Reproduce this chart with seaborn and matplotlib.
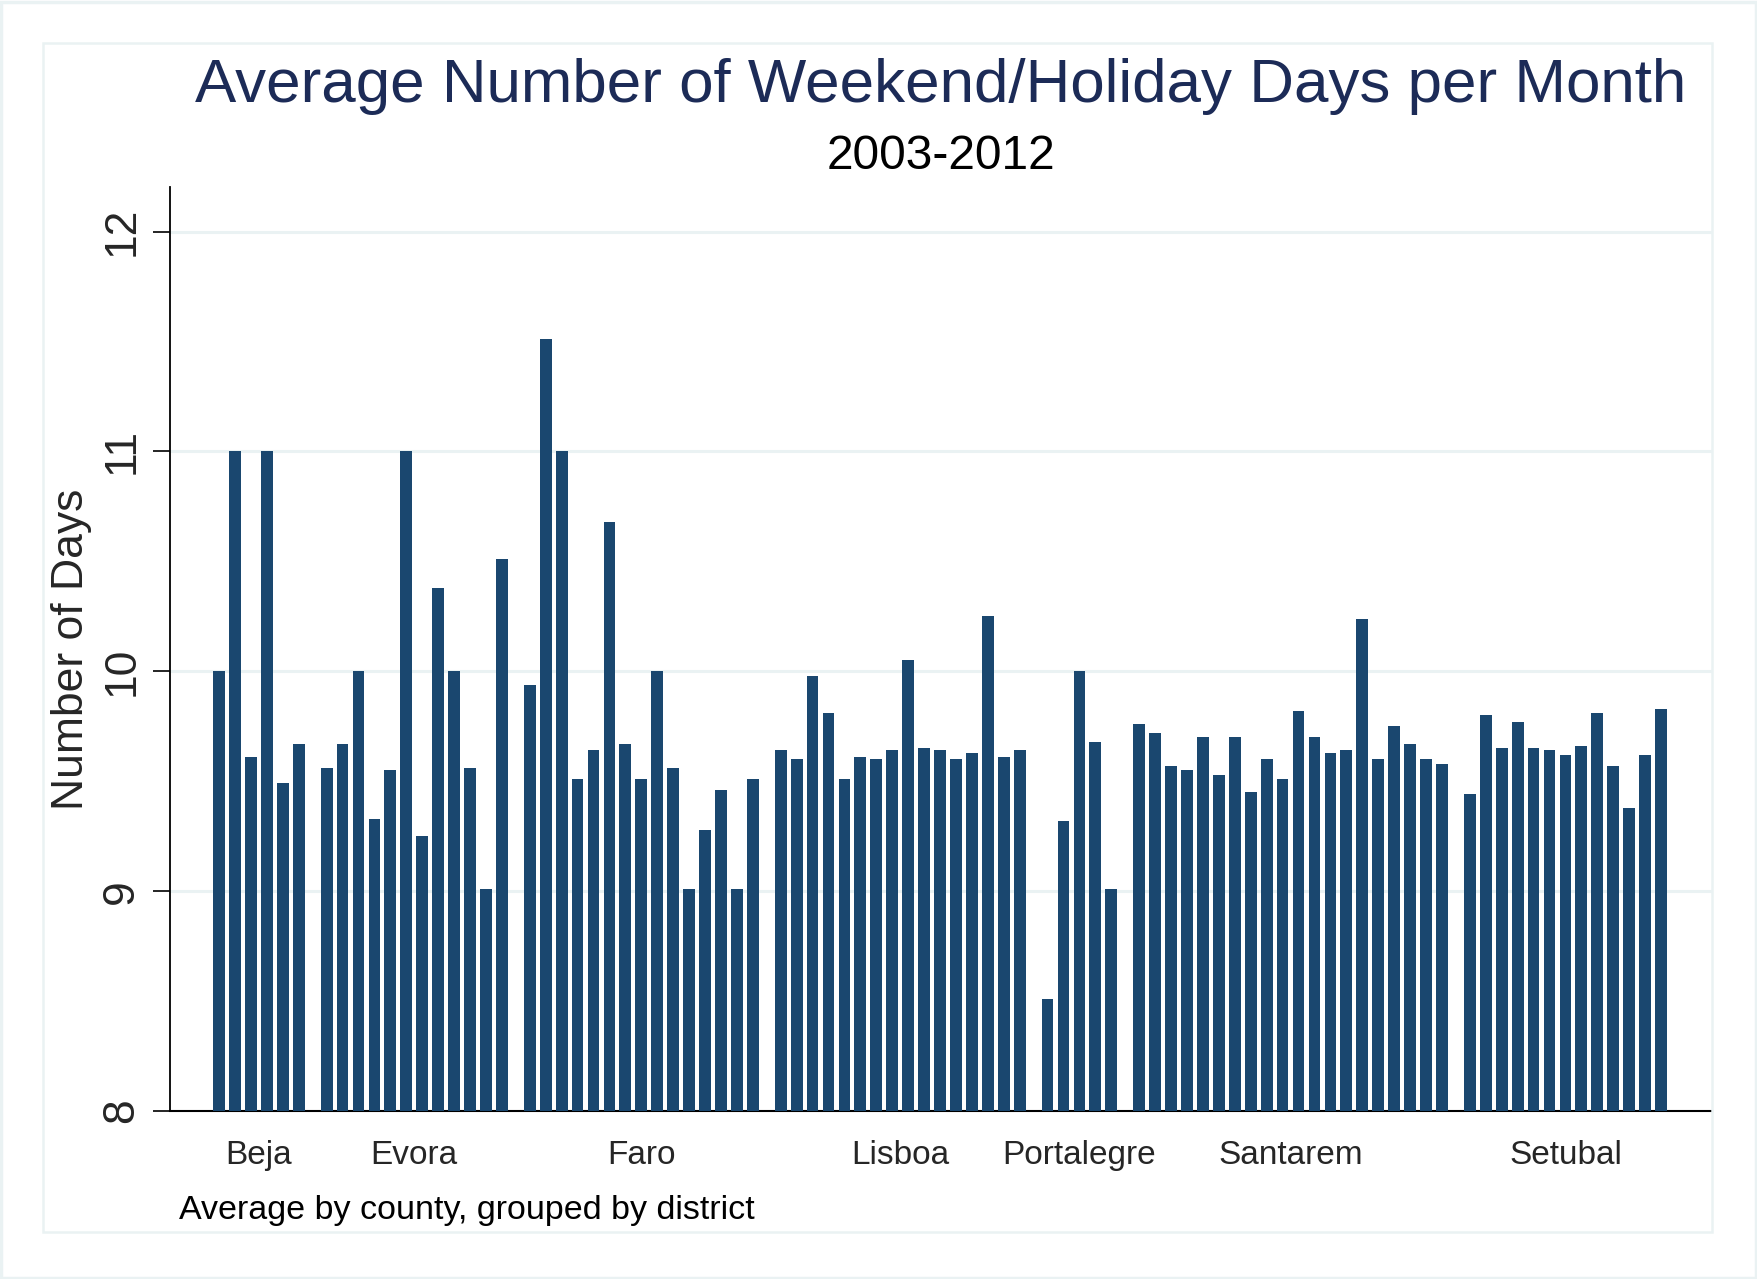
import numpy as np
import pandas as pd
import matplotlib.pyplot as plt
import seaborn as sns

# average weekend/holiday days per month, one value per county
districts = ["Beja", "Evora", "Faro", "Lisboa", "Portalegre", "Santarem", "Setubal"]
beja = [10.0, 11.0, 9.61, 11.0, 9.49, 9.67]
evora = [9.56, 9.67, 10.0, 9.33, 9.55, 11.0, 9.25, 10.38, 10.0, 9.56, 9.01, 10.51]
faro = [9.94, 11.51, 11.0, 9.51, 9.64, 10.68, 9.67, 9.51, 10.0, 9.56, 9.01, 9.28,
        9.46, 9.01, 9.51]
lisboa = [9.64, 9.60, 9.98, 9.81, 9.51, 9.61, 9.60, 9.64, 10.05, 9.65, 9.64, 9.60,
          9.63, 10.25, 9.61, 9.64]
portalegre = [8.51, 9.32, 10.0, 9.68, 9.01]
santarem = [9.76, 9.72, 9.57, 9.55, 9.70, 9.53, 9.70, 9.45, 9.60, 9.51, 9.82, 9.70,
            9.63, 9.64, 10.24, 9.60, 9.75, 9.67, 9.60, 9.58]
setubal = [9.44, 9.80, 9.65, 9.77, 9.65, 9.64, 9.62, 9.66, 9.81, 9.57, 9.38, 9.62, 9.83]

y_ticks = [8, 9, 10, 11, 12]

BAR = "#1a476f"
GRID = "#eaf2f3"
NAVY = "#1c2b57"

groups = [beja, evora, faro, lisboa, portalegre, santarem, setubal]
gap = 0.75  # extra space between districts

rows = []
i = 0
for g, (name, vals) in enumerate(zip(districts, groups)):
    for v in vals:
        rows.append({"district": name, "pos": i + g * gap, "days": v})
        i += 1
df = pd.DataFrame(rows)
centers = df.groupby("district", sort=False)["pos"].mean()

sns.set_style("white")
plt.rcParams["font.family"] = ["Liberation Sans", "DejaVu Sans"]

W, H = 1758, 1279
fig = plt.figure(figsize=(W / 100, H / 100), dpi=100)
ax = fig.add_axes([170 / W, 1 - 1111 / H, (1712 - 170) / W, (1111 - 187) / H])

sns.barplot(data=df, x="pos", y="days", native_scale=True, width=0.74,
            color=BAR, saturation=1, errorbar=None, ax=ax, zorder=3)
for p in ax.patches:
    p.set_edgecolor("none")

ax.set_xlim(df["pos"].min() - 3.08, df["pos"].max() + 3.2)
ax.set_ylim(8, 12.203)
ax.set_yticks(y_ticks)
ax.set_yticklabels([str(t) for t in y_ticks], rotation=90, va="center", fontsize=32)
for t in y_ticks[1:]:
    ax.axhline(t, color=GRID, lw=2.2, zorder=1)

ax.set_xticks(centers.values)
ax.set_xticklabels(centers.index, fontsize=24)
ax.tick_params(axis="x", length=0, pad=21)
ax.tick_params(axis="y", length=12, width=1.2, pad=8, color="black", left=True)

for s in ["top", "right"]:
    ax.spines[s].set_visible(False)
ax.spines["left"].set_linewidth(1.3)
ax.spines["bottom"].set_linewidth(1.5)
ax.spines["left"].set_color("black")
ax.spines["bottom"].set_color("black")

ax.set_xlabel("")
ax.set_ylabel("Number of Days", fontsize=32)
ax.yaxis.set_label_coords((92 - 170) / (1712 - 170), 0.5)

fig.text(941 / W, 1 - 102 / H, "Average Number of Weekend/Holiday Days per Month",
         ha="center", va="baseline", fontsize=44.6, color=NAVY)
fig.text(941 / W, 1 - 169 / H, "2003-2012", ha="center", va="baseline",
         fontsize=34.5, color="black")
fig.text(179 / W, 1 - 1219 / H, "Average by county, grouped by district",
         ha="left", va="baseline", fontsize=24.5, color="black")

# outer and inner frames
fig.patches.append(plt.Rectangle((1 / W, 1 / H), 1 - 3 / W, 1 - 3 / H,
                                 transform=fig.transFigure, fill=False,
                                 edgecolor=GRID, lw=2.5))
fig.patches.append(plt.Rectangle((43 / W, 1 - 1232 / H), (1712 - 43) / W, (1232 - 43) / H,
                                 transform=fig.transFigure, fill=False,
                                 edgecolor=GRID, lw=1.8, zorder=0))

fig.savefig("out.png", dpi=100, facecolor="white")
